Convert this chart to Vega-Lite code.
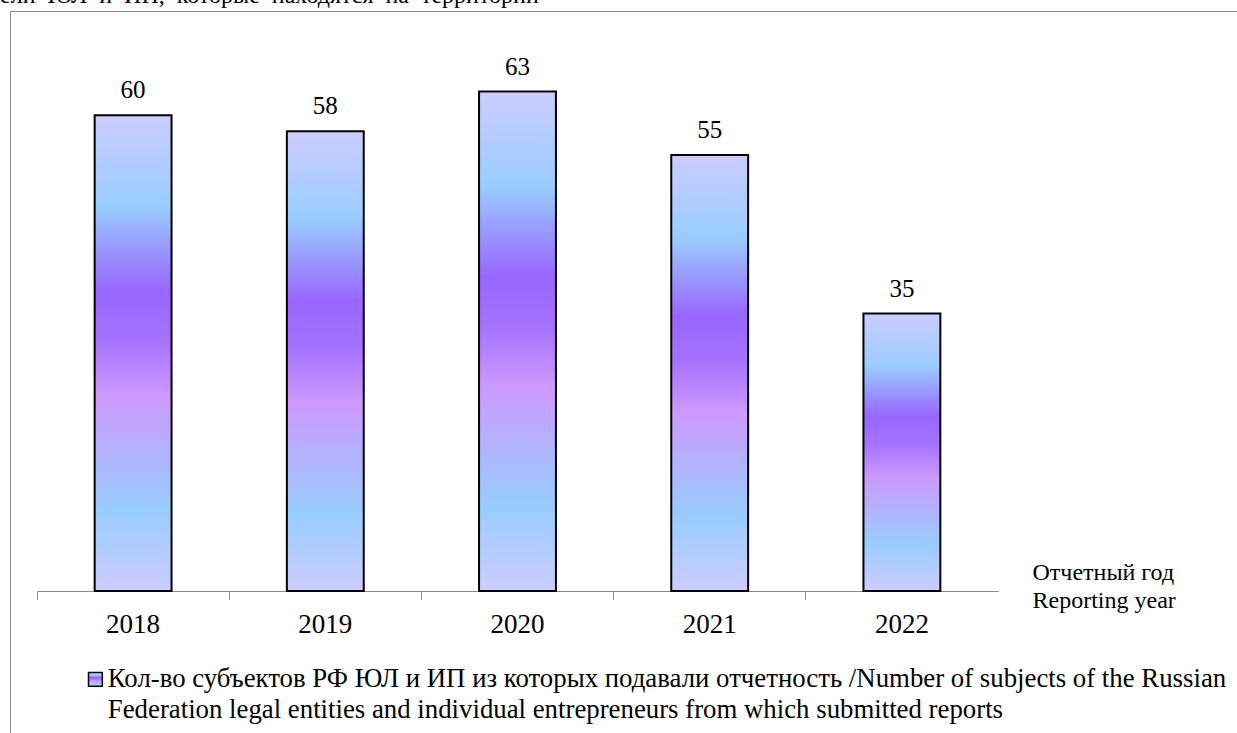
{
  "$schema": "https://vega.github.io/schema/vega-lite/v6.json",
  "width": 1227,
  "height": 722,
  "autosize": {"type": "none"},
  "padding": {"left": 10, "top": 11, "right": 0, "bottom": 0},
  "background": "white",
  "title": {
    "text": "ели\u00a0 ЮЛ\u00a0 и\u00a0 ИП,\u00a0 которые\u00a0 находятся\u00a0 на\u00a0 территории",
    "anchor": "start",
    "frame": "group",
    "orient": "top",
    "offset": 0,
    "dx": -10,
    "dy": 16,
    "baseline": "alphabetic",
    "font": "Liberation Serif, Times New Roman, serif",
    "fontSize": 24,
    "fontWeight": "normal",
    "color": "black"
  },
  "config": {
    "view": {"stroke": "#8c8c8c", "strokeWidth": 1},
    "font": "Liberation Serif, Times New Roman, serif",
    "style": {"guide-label": {"lineHeight": 31}}
  },
  "data": {
    "values": [
      {"year": "2018", "count": 60, "series": "Кол-во субъектов РФ ЮЛ и ИП из которых подавали отчетность /Number of subjects of the Russian Federation legal entities and individual entrepreneurs from which submitted reports"},
      {"year": "2019", "count": 58, "series": "Кол-во субъектов РФ ЮЛ и ИП из которых подавали отчетность /Number of subjects of the Russian Federation legal entities and individual entrepreneurs from which submitted reports"},
      {"year": "2020", "count": 63, "series": "Кол-во субъектов РФ ЮЛ и ИП из которых подавали отчетность /Number of subjects of the Russian Federation legal entities and individual entrepreneurs from which submitted reports"},
      {"year": "2021", "count": 55, "series": "Кол-во субъектов РФ ЮЛ и ИП из которых подавали отчетность /Number of subjects of the Russian Federation legal entities and individual entrepreneurs from which submitted reports"},
      {"year": "2022", "count": 35, "series": "Кол-во субъектов РФ ЮЛ и ИП из которых подавали отчетность /Number of subjects of the Russian Federation legal entities and individual entrepreneurs from which submitted reports"}
    ]
  },
  "encoding": {
    "x": {
      "field": "year",
      "type": "ordinal",
      "scale": {"range": [27, 988], "paddingInner": 0, "paddingOuter": 0},
      "axis": {
        "orient": "bottom",
        "offset": -142,
        "bandPosition": 0,
        "labelAngle": 0,
        "labelFont": "Liberation Serif, Times New Roman, serif",
        "labelFontSize": 27,
        "labelColor": "black",
        "labelPadding": 12,
        "domainColor": "#8c8c8c",
        "domainWidth": 1,
        "tickColor": "#8c8c8c",
        "tickSize": 8,
        "tickWidth": 1,
        "grid": false,
        "title": ["Отчетный год", "Reporting year"],
        "titleFont": "Liberation Serif, Times New Roman, serif",
        "titleFontSize": 24,
        "titleFontWeight": "normal",
        "titleColor": "black",
        "titleAlign": "left",
        "titleBaseline": "alphabetic",
        "titleLineHeight": 28,
        "titleX": 1022,
        "titleY": -12,
        "titleAngle": 0
      }
    },
    "y": {
      "field": "count",
      "type": "quantitative",
      "scale": {"domain": [0, 70], "range": [580, 25], "nice": false, "zero": true},
      "axis": null
    }
  },
  "layer": [
    {
      "mark": {
        "type": "bar",
        "width": {"band": 0.4},
        "strokeWidth": 2,
        "fill": {
          "gradient": "linear",
          "x1": 0, "y1": 0, "x2": 0, "y2": 1,
          "stops": [
            {"offset": 0, "color": "#ccccff"},
            {"offset": 0.19, "color": "#99ccff"},
            {"offset": 0.37, "color": "#9966ff"},
            {"offset": 0.47, "color": "#a572ff"},
            {"offset": 0.59, "color": "#cc99ff"},
            {"offset": 0.83, "color": "#99ccff"},
            {"offset": 1, "color": "#ccccff"}
          ]
        },
        "fillOpacity": 1
      },
      "encoding": {
        "stroke": {
          "field": "series",
          "type": "nominal",
          "scale": {"range": ["#000000"]},
          "legend": {
            "orient": "none",
            "legendX": 72,
            "legendY": 655,
            "title": null,
            "padding": 0,
            "symbolType": "square",
            "symbolSize": 190,
            "symbolStrokeWidth": 1.5,
            "symbolStrokeColor": "#222222",
            "symbolFillColor": "#b39cff",
            "labelFont": "Liberation Serif, Times New Roman, serif",
            "labelFontSize": 26.8,
            "labelColor": "black",
            "labelLimit": 0,
            "labelOffset": -1,
            "labelBaseline": "middle",
            "labelExpr": "[slice(datum.label, 0, indexof(datum.label, 'Federation') - 1), slice(datum.label, indexof(datum.label, 'Federation'))]"
          }
        }
      }
    },
    {
      "mark": {
        "type": "text",
        "dy": -17,
        "baseline": "alphabetic",
        "font": "Liberation Serif, Times New Roman, serif",
        "fontSize": 25,
        "color": "black"
      },
      "encoding": {"text": {"field": "count", "type": "quantitative"}}
    }
  ]
}
